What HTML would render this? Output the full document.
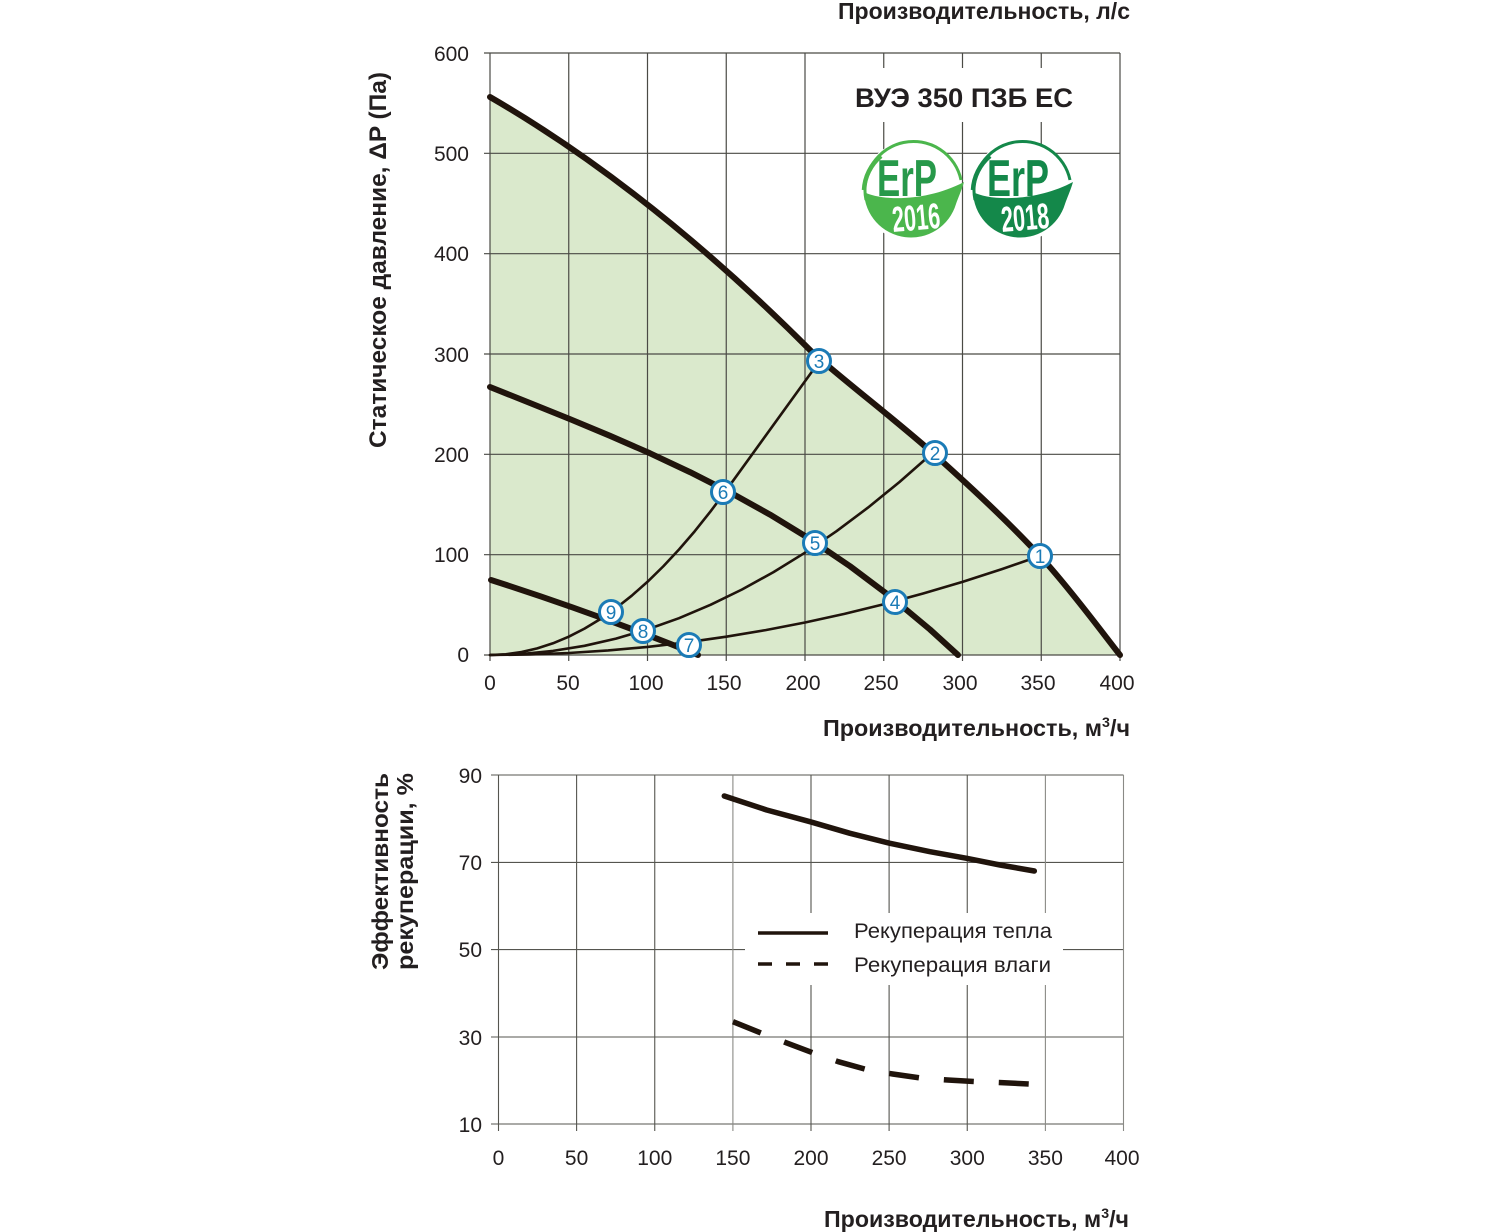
<!DOCTYPE html>
<html><head><meta charset="utf-8"><style>
html,body{margin:0;padding:0;background:#fff;}
svg{display:block;}
text{font-family:"Liberation Sans",Arial,sans-serif;fill:#231f20;}
.b{font-weight:bold;}
.tk{font-size:21px;}
.mk{font-size:19px;fill:#1b7bb6;text-anchor:middle;}
</style></head><body>
<svg width="1506" height="1232" viewBox="0 0 1506 1232" xmlns="http://www.w3.org/2000/svg">
<rect width="1506" height="1232" fill="#fff"/>

<!-- TOP CHART -->
<path d="M490,97 Q651.2,190.3 813,353 C847.7,383.7 897.2,421.2 935,455 C972.8,488.8 1009.2,522.7 1040,556 C1070.8,589.3 1106.7,638.5 1120,655 L490,655 Z" fill="#dae9cc"/>

<g stroke="#4a4a45" stroke-width="1.2" fill="none">
<line x1="484" y1="53" x2="1120" y2="53"/>
<line x1="484" y1="153.3" x2="1120" y2="153.3"/>
<line x1="484" y1="253.7" x2="1120" y2="253.7"/>
<line x1="484" y1="354" x2="1120" y2="354"/>
<line x1="484" y1="454.3" x2="1120" y2="454.3"/>
<line x1="484" y1="554.7" x2="1120" y2="554.7"/>
<line x1="484" y1="655" x2="1120" y2="655"/>
<line x1="490" y1="53" x2="490" y2="661"/>
<line x1="568.75" y1="53" x2="568.75" y2="661"/>
<line x1="647.5" y1="53" x2="647.5" y2="661"/>
<line x1="726.25" y1="53" x2="726.25" y2="661"/>
<line x1="805" y1="53" x2="805" y2="661"/>
<line x1="883.75" y1="53" x2="883.75" y2="661"/>
<line x1="962.5" y1="53" x2="962.5" y2="661"/>
<line x1="1041.25" y1="53" x2="1041.25" y2="661"/>
<line x1="1120" y1="53" x2="1120" y2="661"/>
</g>

<!-- title box & logos backgrounds -->
<rect x="848" y="68" width="232" height="54" fill="#fff"/>
<circle cx="911" cy="191" r="50" fill="#fff"/>
<circle cx="1020" cy="191" r="50" fill="#fff"/>

<text class="b" x="855" y="107" font-size="27" textLength="218" lengthAdjust="spacingAndGlyphs">ВУЭ 350 ПЗБ ЕС</text>

<!-- ErP 2016 -->
<g transform="translate(911,192)">
<path d="M-45,8 A46 46 0 0 1 50,-12" fill="none" stroke="#4bb64c" stroke-width="3"/>
<path d="M-47,-2 A47 47 0 0 1 -30,-36" fill="none" stroke="#4bb64c" stroke-width="4.5"/>
<path d="M-47,0 C-30,9 15,10 53,-10 C50,0 47,6 45,12 A47 47 0 0 1 -47,0 Z" fill="#4bb64c"/>
<text class="b" x="-4" y="4" font-size="52" text-anchor="middle" textLength="60" lengthAdjust="spacingAndGlyphs" style="fill:#27994a">ErP</text>
<text class="b" x="5" y="38" font-size="36" text-anchor="middle" textLength="48" lengthAdjust="spacingAndGlyphs" transform="rotate(-5 5 25)" style="fill:#fff">2016</text>
</g>
<!-- ErP 2018 -->
<g transform="translate(1020,192)">
<path d="M-45,8 A46 46 0 0 1 50,-12" fill="none" stroke="#14884a" stroke-width="3"/>
<path d="M-47,-2 A47 47 0 0 1 -30,-36" fill="none" stroke="#14884a" stroke-width="4.5"/>
<path d="M-47,0 C-30,9 15,10 53,-10 C50,0 47,6 45,12 A47 47 0 0 1 -47,0 Z" fill="#14884a"/>
<text class="b" x="-2" y="4" font-size="52" text-anchor="middle" textLength="62" lengthAdjust="spacingAndGlyphs" style="fill:#14884a">ErP</text>
<text class="b" x="5" y="38" font-size="36" text-anchor="middle" textLength="48" lengthAdjust="spacingAndGlyphs" transform="rotate(-5 5 25)" style="fill:#fff">2018</text>
</g>

<!-- system curves (thin) -->
<g fill="none" stroke="#20140c" stroke-width="2.6" stroke-linejoin="round" stroke-linecap="round">
<path d="M490,655 L505.75,654.27 L521.5,652.07 L537.25,648.41 L553,643.28 L568.75,636.69 L584.5,628.63 L600.25,619.11 L616,608.13 L631.75,595.67 L647.5,581.76 L663.25,566.38 L679,549.53 L694.75,531.22 L710.5,511.45 L723.1,494.57 L819.2,361.6"/>
<path d="M490,655 L521.5,654 L553,650.9 L584.5,645.8 L616,638.6 L647.5,629.4 L679,618.2 L710.5,604.8 L742,589.5 L773.5,572.1 L805,552.7 L836.5,531.2 L868,507.6 L899.5,482 L934.2,451.5"/>
<path d="M490,655 L529.4,654.5 L568.75,653 L608.1,650.4 L647.5,646.9 L686.9,642.3 L726.25,636.7 L765.6,630.1 L805,622.5 L844.4,613.9 L883.75,604.2 L923.1,593.5 L962.5,581.9 L1001.9,569.1 L1039.7,556"/>
</g>
<!-- fan curves (thick) -->
<g fill="none" stroke="#20140c" stroke-width="6" stroke-linejoin="round" stroke-linecap="round">
<path d="M490,97 Q651.2,190.3 813,353 C847.7,383.7 897.2,421.2 935,455 C972.8,488.8 1009.2,522.7 1040,556 C1070.8,589.3 1106.7,638.5 1120,655"/>
<path d="M490,387 L530,403 L570,419.1 L610,435.8 L650,453.3 L690,472.1 L730,492.4 L770,514.6 L810,539.1 L850,566.2 L890,596.2 L930,629.5 L958,655"/>
<path d="M491,580 Q600,615 698,655"/>
</g>

<!-- markers -->
<g fill="#fff" stroke="#1b7bb6" stroke-width="3">
<circle cx="1040" cy="556" r="11.5"/>
<circle cx="935" cy="453" r="11.5"/>
<circle cx="819" cy="361" r="11.5"/>
<circle cx="895" cy="602" r="11.5"/>
<circle cx="815" cy="543" r="11.5"/>
<circle cx="723" cy="492" r="11.5"/>
<circle cx="689" cy="645" r="11.5"/>
<circle cx="643" cy="631" r="11.5"/>
<circle cx="611" cy="612" r="11.5"/>
</g>
<text class="mk" x="1040" y="562.8">1</text>
<text class="mk" x="935" y="459.8">2</text>
<text class="mk" x="819" y="367.8">3</text>
<text class="mk" x="895" y="608.8">4</text>
<text class="mk" x="815" y="549.8">5</text>
<text class="mk" x="723" y="498.8">6</text>
<text class="mk" x="689" y="651.8">7</text>
<text class="mk" x="643" y="637.8">8</text>
<text class="mk" x="611" y="618.8">9</text>

<!-- top axis ticks -->
<text class="tk" x="469" y="61" text-anchor="end">600</text>
<text class="tk" x="469" y="161" text-anchor="end">500</text>
<text class="tk" x="469" y="261" text-anchor="end">400</text>
<text class="tk" x="469" y="362" text-anchor="end">300</text>
<text class="tk" x="469" y="462" text-anchor="end">200</text>
<text class="tk" x="469" y="562" text-anchor="end">100</text>
<text class="tk" x="469" y="662" text-anchor="end">0</text>

<text class="tk" x="490" y="690" text-anchor="middle">0</text>
<text class="tk" x="568" y="690" text-anchor="middle">50</text>
<text class="tk" x="646" y="690" text-anchor="middle">100</text>
<text class="tk" x="724" y="690" text-anchor="middle">150</text>
<text class="tk" x="803" y="690" text-anchor="middle">200</text>
<text class="tk" x="881" y="690" text-anchor="middle">250</text>
<text class="tk" x="960" y="690" text-anchor="middle">300</text>
<text class="tk" x="1038" y="690" text-anchor="middle">350</text>
<text class="tk" x="1117" y="690" text-anchor="middle">400</text>

<text class="b" x="838" y="19" font-size="23" textLength="292" lengthAdjust="spacingAndGlyphs">Производительность, л/с</text>
<text class="b" x="823" y="736" font-size="23" textLength="307" lengthAdjust="spacingAndGlyphs">Производительность, м<tspan font-size="14" dy="-9">3</tspan><tspan dy="9">/ч</tspan></text>
<text class="b" font-size="24" transform="translate(386,448) rotate(-90)" textLength="376" lengthAdjust="spacingAndGlyphs">Статическое давление, ΔP (Па)</text>

<!-- BOTTOM CHART -->
<g stroke="#55554f" stroke-width="1.1" fill="none">
<line x1="491" y1="775" x2="1123.5" y2="775"/>
<line x1="491" y1="862.4" x2="1123.5" y2="862.4"/>
<line x1="491" y1="949.6" x2="1123.5" y2="949.6"/>
<line x1="491" y1="1037" x2="1123.5" y2="1037"/>
<line x1="491" y1="1124" x2="1123.5" y2="1124"/>
<line x1="498.5" y1="775" x2="498.5" y2="1131"/>
<line x1="576.6" y1="775" x2="576.6" y2="1131"/>
<line x1="654.75" y1="775" x2="654.75" y2="1131"/>
<line x1="732.9" y1="775" x2="732.9" y2="1131" stroke="#8a8a86"/>
<line x1="811" y1="775" x2="811" y2="1131"/>
<line x1="889.1" y1="775" x2="889.1" y2="1131"/>
<line x1="967.25" y1="775" x2="967.25" y2="1131"/>
<line x1="1045.4" y1="775" x2="1045.4" y2="1131" stroke="#8a8a86"/>
<line x1="1123.5" y1="775" x2="1123.5" y2="1131" stroke="#8a8a86"/>
</g>

<!-- legend -->
<rect x="745" y="913" width="318" height="72" fill="#fff"/>
<line x1="758" y1="933" x2="828" y2="933" stroke="#20140c" stroke-width="3.5"/>
<line x1="758" y1="964" x2="828" y2="964" stroke="#20140c" stroke-width="3.5" stroke-dasharray="14 14"/>
<text x="854" y="938" font-size="21" textLength="198" lengthAdjust="spacingAndGlyphs">Рекуперация тепла</text>
<text x="854" y="972" font-size="21" textLength="197" lengthAdjust="spacingAndGlyphs">Рекуперация влаги</text>

<!-- curves -->
<path d="M724.3,796 L766.7,810 L810,821.7 L850,833.3 L890,843.3 L930,851.7 L966.7,858.3 L1000,865 L1034.3,871" fill="none" stroke="#20140c" stroke-width="5.5" stroke-linejoin="round" stroke-linecap="round"/>
<path d="M733,1021.7 L761.7,1033.3 L786,1042.7 L814.3,1053.3 L838.3,1061.7 L868.3,1070 L892.7,1074 L922.7,1078.3 L947.7,1080 L978.3,1081.7 L1004,1082.7 L1034.3,1084.3" fill="none" stroke="#20140c" stroke-width="5.5" stroke-linejoin="round" stroke-dasharray="30 25"/>

<!-- bottom ticks -->
<text class="tk" x="482" y="783" text-anchor="end">90</text>
<text class="tk" x="482" y="870" text-anchor="end">70</text>
<text class="tk" x="482" y="957" text-anchor="end">50</text>
<text class="tk" x="482" y="1045" text-anchor="end">30</text>
<text class="tk" x="482" y="1132" text-anchor="end">10</text>

<text class="tk" x="498.5" y="1165" text-anchor="middle">0</text>
<text class="tk" x="576.6" y="1165" text-anchor="middle">50</text>
<text class="tk" x="654.75" y="1165" text-anchor="middle">100</text>
<text class="tk" x="732.9" y="1165" text-anchor="middle">150</text>
<text class="tk" x="811" y="1165" text-anchor="middle">200</text>
<text class="tk" x="889.1" y="1165" text-anchor="middle">250</text>
<text class="tk" x="967.25" y="1165" text-anchor="middle">300</text>
<text class="tk" x="1045.4" y="1165" text-anchor="middle">350</text>
<text class="tk" x="1122" y="1165" text-anchor="middle">400</text>

<text class="b" x="824" y="1227" font-size="23" textLength="305" lengthAdjust="spacingAndGlyphs">Производительность, м<tspan font-size="14" dy="-9">3</tspan><tspan dy="9">/ч</tspan></text>
<text class="b" font-size="23" transform="translate(388,970) rotate(-90)" textLength="197" lengthAdjust="spacingAndGlyphs">Эффективность</text>
<text class="b" font-size="23" transform="translate(413,970) rotate(-90)" textLength="197" lengthAdjust="spacingAndGlyphs">рекуперации, %</text>
</svg>
</body></html>
